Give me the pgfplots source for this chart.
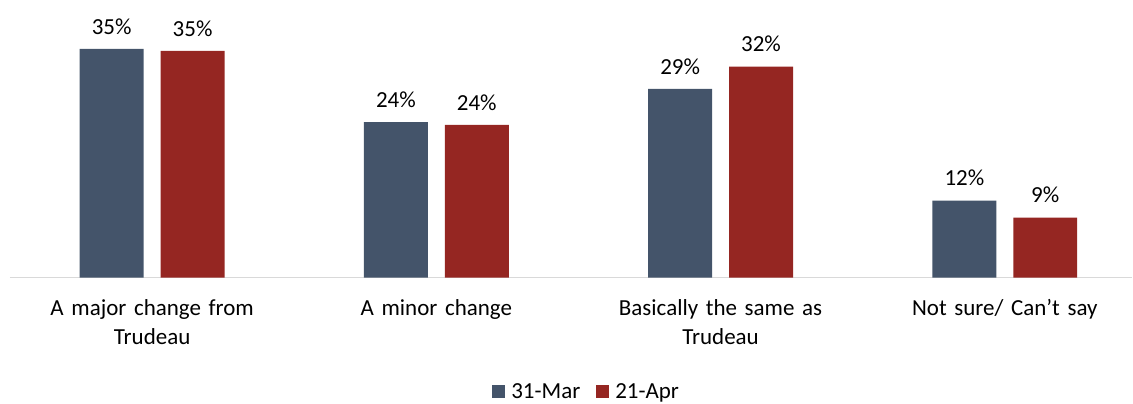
\documentclass[border=0pt]{standalone}
\usepackage{pgfplots}
\pgfplotsset{compat=1.18}
\usepackage{fontspec}
\setmainfont{Carlito}
\definecolor{cDark}{HTML}{44546A}
\definecolor{cRed}{HTML}{952622}
\definecolor{cAxis}{HTML}{D9D9D9}
\begin{document}
\begin{tikzpicture}
\begin{axis}[
  scale only axis,
  width=1123bp, height=261.7bp,
  xmin=-0.5, xmax=3.447,
  ymin=0, ymax=40,
  clip=false,
  ybar=17bp,
  bar width=64bp,
  axis x line*=bottom,
  axis y line=none,
  axis line style={draw=cAxis, line width=1.5bp},
  xtick={0,1,2,3},
  xticklabels={{A major change from\\Trudeau},{A minor change},{Basically the same as\\Trudeau},{Not sure/ Can’t say}},
  xtick style={draw=none},
  xticklabel style={font=\fontsize{23bp}{29bp}\selectfont, align=center, text width=250bp, yshift=-14bp},
  point meta=explicit symbolic,
  nodes near coords,
  nodes near coords style={font=\fontsize{23bp}{28bp}\selectfont, text=black, yshift=11bp},
  legend style={draw=none, at={(0.514,-0.436)}, anchor=center, legend columns=2,
    font=\fontsize{23bp}{28bp}\selectfont,
    /tikz/every odd column/.append style={column sep=4bp},
    /tikz/every even column/.append style={column sep=14bp}},
  legend image code/.code={\fill[#1] (0bp,-6.5bp) rectangle (13bp,6.5bp);},
]
\addplot[fill=cDark, draw=none] coordinates {(0,35.0) [35\%] (1,23.8) [24\%] (2,28.9) [29\%] (3,11.8) [12\%]};
\addplot[fill=cRed, draw=none] coordinates {(0,34.7) [35\%] (1,23.4) [24\%] (2,32.3) [32\%] (3,9.2) [9\%]};
\legend{31-Mar,21-Apr}
\end{axis}
\useasboundingbox (-10bp,-124bp) rectangle (1123bp,278bp);
\end{tikzpicture}
\end{document}
